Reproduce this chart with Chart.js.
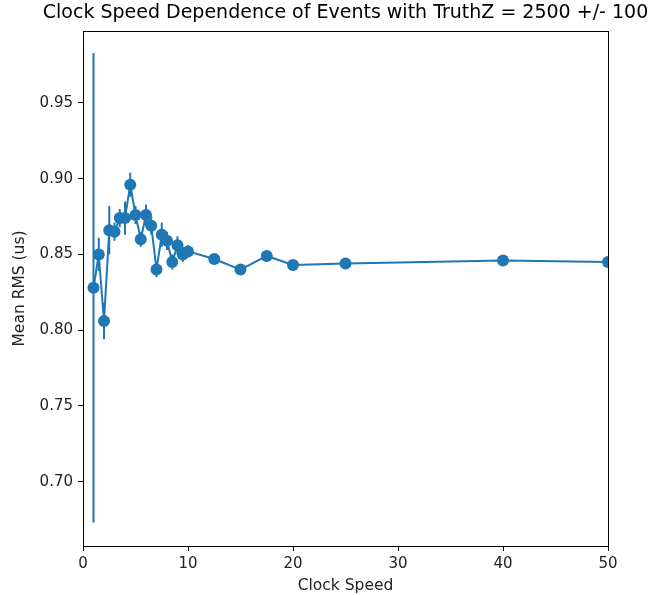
<!DOCTYPE html>
<html>
<head>
<meta charset="utf-8">
<script src="https://cdn.jsdelivr.net/npm/chart.js@4"></script>
<style>
  html, body { margin: 0; padding: 0; background: #fff; }
</style>
</head>
<body>
<canvas id="rms" width="648" height="595"></canvas>
<script>
// values
const clockSpeed = [1, 1.5, 2, 2.5, 3, 3.5, 4, 4.5, 5, 5.5, 6, 6.5, 7, 7.5, 8, 8.5, 9, 9.5, 10, 12.5, 15, 17.5, 20, 25, 40, 50];
const meanRms = [0.828, 0.850, 0.806, 0.866, 0.865, 0.874, 0.874, 0.896, 0.876, 0.860, 0.876, 0.869, 0.840, 0.863, 0.859, 0.845, 0.856, 0.850, 0.852, 0.847, 0.840, 0.849, 0.843, 0.844, 0.846, 0.845];
const rmsErr = [0.155, 0.011, 0.012, 0.016, 0.006, 0.006, 0.011, 0.008, 0.006, 0.005, 0.007, 0.006, 0.005, 0.008, 0.006, 0.005, 0.006, 0.005, 0.004, 0.002, 0.002, 0.002, 0.002, 0.002, 0.002, 0.002];
const xTicks = [0, 10, 20, 30, 40, 50];
const yTicks = [0.70, 0.75, 0.80, 0.85, 0.90, 0.95];

const titleText = 'Clock Speed Dependence of Events with TruthZ = 2500 +/- 100';
const blue = '#1f77b4';
const font = 'DejaVu Sans';

const points = clockSpeed.map((x, i) => ({ x: x, y: meanRms[i] }));

// error bars + frame + title
const extras = {
  id: 'extras',
  beforeDatasetsDraw(chart) {
    const { ctx, scales } = chart;
    ctx.save();
    ctx.strokeStyle = blue;
    ctx.lineWidth = 2;
    for (let i = 0; i < clockSpeed.length; i++) {
      const px = scales.x.getPixelForValue(clockSpeed[i]);
      ctx.beginPath();
      ctx.moveTo(px, scales.y.getPixelForValue(meanRms[i] - rmsErr[i]));
      ctx.lineTo(px, scales.y.getPixelForValue(meanRms[i] + rmsErr[i]));
      ctx.stroke();
    }
    ctx.restore();
  },
  afterDraw(chart) {
    const { ctx, chartArea: a } = chart;
    ctx.save();
    ctx.strokeStyle = '#000';
    ctx.lineWidth = 1;
    ctx.strokeRect(Math.round(a.left) + 0.5, Math.round(a.top) + 0.5,
      Math.round(a.right - a.left), Math.round(a.bottom - a.top));
    ctx.fillStyle = '#000';
    ctx.font = '19px "' + font + '"';
    ctx.textAlign = 'center';
    ctx.textBaseline = 'middle';
    ctx.fillText(titleText, (a.left + a.right) / 2, 13);
    ctx.restore();
  }
};

new Chart(document.getElementById('rms'), {
  type: 'scatter',
  data: {
    datasets: [{
      data: points,
      showLine: true,
      borderColor: blue,
      backgroundColor: blue,
      borderWidth: 2,
      pointRadius: 6,
      pointHoverRadius: 6,
      pointBorderWidth: 0,
      clip: 0
    }]
  },
  options: {
    responsive: false,
    animation: false,
    events: [],
    layout: { padding: { top: 31, right: 40, left: 0, bottom: 0 } },
    plugins: {
      legend: { display: false },
      tooltip: { enabled: false }
    },
    scales: {
      x: {
        type: 'linear',
        min: 0,
        max: 50,
        afterBuildTicks: (s) => { s.ticks = xTicks.map(v => ({ value: v })); },
        afterFit: (s) => { s.height = 49; },
        border: { display: false },
        grid: { drawOnChartArea: false, drawTicks: true, tickLength: 5, tickColor: '#000' },
        ticks: { padding: 4, color: '#222', font: { family: font, size: 15 }, maxRotation: 0 },
        title: { display: true, text: 'Clock Speed', color: '#222', font: { family: font, size: 15.5 }, padding: { top: 0, bottom: 0 } }
      },
      y: {
        type: 'linear',
        min: 0.6575,
        max: 0.9975,
        afterBuildTicks: (s) => { s.ticks = yTicks.map(v => ({ value: v })); },
        afterFit: (s) => { s.width = 83; },
        border: { display: false },
        grid: { drawOnChartArea: false, drawTicks: true, tickLength: 5, tickColor: '#000' },
        ticks: { padding: 5, color: '#222', font: { family: font, size: 15 }, callback: (v) => v.toFixed(2) },
        title: { display: true, text: 'Mean RMS (us)', color: '#222', font: { family: font, size: 15.5 }, padding: { top: 11, bottom: 0 } }
      }
    }
  },
  plugins: [extras]
});
</script>
</body>
</html>
